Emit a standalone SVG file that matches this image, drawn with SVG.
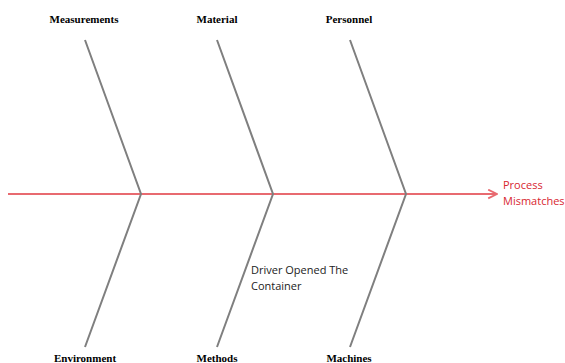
<svg xmlns="http://www.w3.org/2000/svg" width="565" height="363" viewBox="0 0 565 363">
<style>
.bone{stroke:#7f7f7f;stroke-width:2;fill:none}
.spine{stroke:#e86a70;stroke-width:2;fill:none}
.cat{font-family:"Liberation Serif",serif;font-weight:bold;font-size:11px;fill:#000;text-anchor:middle}
.lbl{font-family:"Open Sans","Noto Sans",sans-serif;font-size:11px;fill:#222}
.eff{font-family:"Open Sans","Noto Sans",sans-serif;font-size:11px;fill:#d8262f}
</style>
<defs>
<marker id="arr" viewBox="0 0 10 10" refX="9" refY="5" markerWidth="5.5" markerHeight="5.5" orient="auto" markerUnits="strokeWidth">
<path d="M1,1 L9,5 L1,9" fill="none" stroke="#e86a70" stroke-width="1.6"/>
</marker>
</defs>
<g id="connectors">
<line class="spine" x1="8" y1="194" x2="497" y2="194" marker-end="url(#arr)"/>
<polyline class="bone" points="85,40 141,194 85,347"/>
<polyline class="bone" points="217,40 273,194 217,347"/>
<polyline class="bone" points="350,40 406,194 350,347"/>
</g>
<g id="measurements"><text class="cat" x="84" y="23">Measurements</text></g>
<g id="material"><text class="cat" x="217" y="23">Material</text></g>
<g id="personnel"><text class="cat" x="349" y="23">Personnel</text></g>
<g id="environment"><text class="cat" x="85" y="362">Environment</text></g>
<g id="methods"><text class="cat" x="217" y="362">Methods</text></g>
<g id="machines"><text class="cat" x="349" y="362">Machines</text></g>
<g id="cause"><text class="lbl" x="251" y="274">Driver Opened The</text><text class="lbl" x="251" y="290">Container</text></g>
<g id="effect"><text class="eff" x="503" y="189">Process</text><text class="eff" x="503" y="205">Mismatches</text></g>
</svg>
